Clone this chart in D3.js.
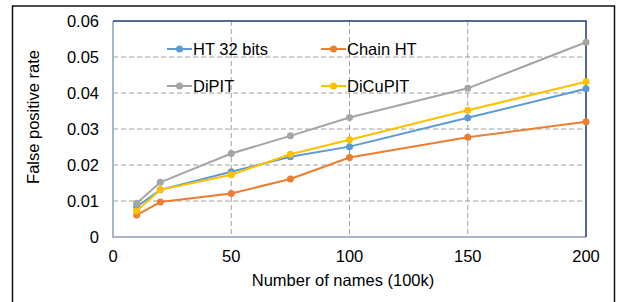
<!DOCTYPE html>
<html>
<head>
<meta charset="utf-8">
<script src="https://cdn.jsdelivr.net/npm/d3@7"></script>
<style>
  body { margin: 0; background: #fff; }
  text { font-family: "Liberation Sans", Arial, sans-serif; fill: #000; }
</style>
</head>
<body>
<script>
const w = 618;
const h = 302;

const xValues = [10, 20, 50, 75, 100, 150, 200];
const ht32 = [0.0084, 0.0131, 0.0181, 0.0223, 0.0251, 0.0331, 0.0412];
const chainHT = [0.0061, 0.0097, 0.0121, 0.0161, 0.0221, 0.0277, 0.032];
const dipit = [0.0094, 0.0152, 0.0232, 0.0281, 0.0332, 0.0413, 0.0541];
const dicupit = [0.0072, 0.0131, 0.0173, 0.023, 0.027, 0.0352, 0.0431];
const seriesNames = ["HT 32 bits", "Chain HT", "DiPIT", "DiCuPIT"];
const xTicks = [0, 50, 100, 150, 200];
const yTicks = [0, 0.01, 0.02, 0.03, 0.04, 0.05, 0.06];

const colors = ["#5b9bd5", "#ed7d31", "#a5a5a5", "#ffc000"];
const seriesValues = [ht32, chainHT, dipit, dicupit];

const pLeft = 113, pRight = 586, pTop = 21, pBottom = 237;
const fs = "16.5px";

const xScale = d3.scaleLinear().domain([0, 200]).range([pLeft, pRight]);
const yScale = d3.scaleLinear().domain([0, 0.06]).range([pBottom, pTop]);

const svg = d3.select("body")
              .append("svg")
              .attr("width", w)
              .attr("height", h)

// outer frame
svg.append("rect")
   .attr("x", 12.5).attr("y", 6)
   .attr("width", 602).attr("height", 310)
   .attr("fill", "none")
   .attr("stroke", "#111")
   .attr("stroke-width", 1.5)

// grid
svg.selectAll(".hgrid")
   .data(yTicks.slice(1, -1))
   .enter()
   .append("line")
   .attr("x1", pLeft).attr("x2", pRight)
   .attr("y1", d => yScale(d)).attr("y2", d => yScale(d))
   .attr("stroke", "#a0a0a0")
   .attr("stroke-dasharray", "5,3")

svg.selectAll(".vgrid")
   .data(xTicks.slice(1, -1))
   .enter()
   .append("line")
   .attr("x1", d => xScale(d)).attr("x2", d => xScale(d))
   .attr("y1", pTop).attr("y2", pBottom)
   .attr("stroke", "#a0a0a0")
   .attr("stroke-dasharray", "5,3")

// plot border: light left/bottom, dark top/right
svg.append("path")
   .attr("d", `M${pLeft},${pTop} L${pLeft},${pBottom} L${pRight},${pBottom}`)
   .attr("fill", "none")
   .attr("stroke", "#a8b6cc")
   .attr("stroke-width", 2)
svg.append("path")
   .attr("d", `M${pLeft},${pTop} L${pRight},${pTop} L${pRight},${pBottom}`)
   .attr("fill", "none")
   .attr("stroke", "#1f3a78")
   .attr("stroke-width", 1.5)

// lines + markers
const line = d3.line()
               .x((d, i) => xScale(xValues[i]))
               .y(d => yScale(d))

seriesValues.forEach(function(vals, k) {
  svg.append("path")
     .datum(vals)
     .attr("d", line)
     .attr("fill", "none")
     .attr("stroke", colors[k])
     .attr("stroke-width", 2)
  svg.selectAll(".pt" + k)
     .data(vals)
     .enter()
     .append("circle")
     .attr("cx", (d, i) => xScale(xValues[i]))
     .attr("cy", d => yScale(d))
     .attr("r", 3.5)
     .attr("fill", colors[k])
})

// axes labels
svg.selectAll(".ylab")
   .data(yTicks)
   .enter()
   .append("text")
   .attr("x", 99)
   .attr("y", d => yScale(d) + 6)
   .attr("text-anchor", "end")
   .attr("font-size", fs)
   .text(d => d === 0 ? "0" : d3.format(".2f")(d))

svg.selectAll(".xlab")
   .data(xTicks)
   .enter()
   .append("text")
   .attr("x", d => xScale(d))
   .attr("y", 262)
   .attr("text-anchor", "middle")
   .attr("font-size", fs)
   .text(d => d)

svg.append("text")
   .attr("x", 343)
   .attr("y", 286)
   .attr("text-anchor", "middle")
   .attr("font-size", fs)
   .text("Number of names (100k)")

svg.append("text")
   .attr("transform", "translate(39,117) rotate(-90)")
   .attr("text-anchor", "middle")
   .attr("font-size", fs)
   .text("False positive rate")

// legend
const legendPos = [[167, 49], [321, 49], [167, 86], [321, 86]];
seriesNames.forEach(function(name, k) {
  const [lx, ly] = legendPos[k];
  const g = svg.append("g").attr("transform", `translate(${lx},${ly})`);
  g.append("line").attr("x1", 0).attr("x2", 25).attr("y1", 0).attr("y2", 0)
   .attr("stroke", colors[k]).attr("stroke-width", 2);
  g.append("circle").attr("cx", 12.5).attr("cy", 0).attr("r", 3.5).attr("fill", colors[k]);
  g.append("text").attr("x", 26).attr("y", 6).attr("font-size", fs).text(name);
})
</script>
</body>
</html>
